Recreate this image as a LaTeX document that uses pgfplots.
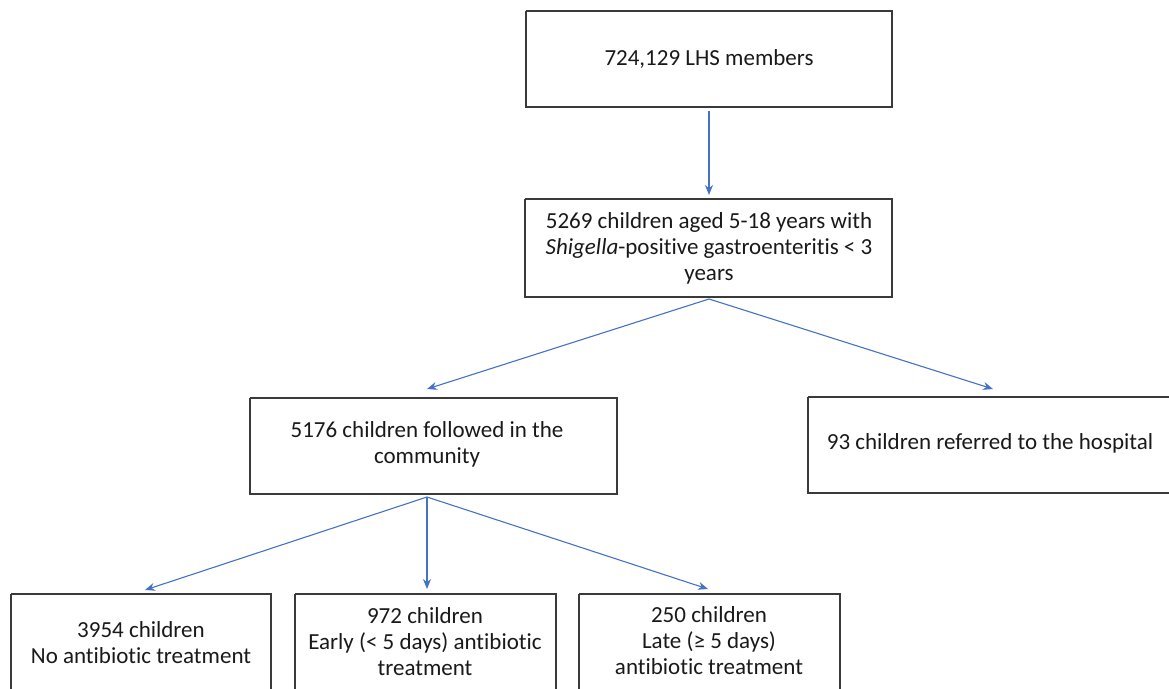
\documentclass[border=0pt]{standalone}
\usepackage{pgfplots}
\pgfplotsset{compat=1.18}
\usepackage{fontspec}
\setmainfont{Carlito}[Ligatures={NoCommon}]
\usetikzlibrary{arrows.meta}
\definecolor{boxline}{HTML}{3A3A3A}
\definecolor{arrowblue}{HTML}{4472C4}
\begin{document}
\begin{tikzpicture}
\begin{axis}[
  hide axis, scale only axis,
  width=1169pt, height=688pt,
  xmin=0, xmax=1169, ymin=0, ymax=688,
  y dir=reverse, clip=false,
  every axis plot/.append style={line join=miter},
]
% boxes
\addplot[boxline, line width=1.3pt] coordinates {(526,11) (892,11) (892,107) (526,107) (526,11)};
\addplot[boxline, line width=1.3pt] coordinates {(525,199) (892,199) (892,297) (525,297) (525,199)};
\addplot[boxline, line width=1.3pt] coordinates {(250,398) (617,398) (617,494) (250,494) (250,398)};
\addplot[boxline, line width=1.3pt] coordinates {(808,397) (1175,397) (1175,493) (808,493) (808,397)};
\addplot[boxline, line width=1.3pt] coordinates {(11,594) (271,594) (271,700) (11,700) (11,594)};
\addplot[boxline, line width=1.3pt] coordinates {(295,594) (556,594) (556,700) (295,700) (295,594)};
\addplot[boxline, line width=1.3pt] coordinates {(579,594) (840,594) (840,700) (579,700) (579,594)};
% arrows
\addplot[arrowblue, line width=1.1pt, -{Stealth[length=10pt,width=8pt]}] coordinates {(709,111) (709,195)};
\addplot[arrowblue, line width=1.1pt, -{Stealth[length=10pt,width=8pt]}] coordinates {(709,299) (427,389)};
\addplot[arrowblue, line width=1.1pt, -{Stealth[length=10pt,width=8pt]}] coordinates {(709,299) (993,389)};
\addplot[arrowblue, line width=1.1pt, -{Stealth[length=10pt,width=8pt]}] coordinates {(427,497) (145,590)};
\addplot[arrowblue, line width=1.1pt, -{Stealth[length=10pt,width=8pt]}] coordinates {(427,497) (427,589)};
\addplot[arrowblue, line width=1.1pt, -{Stealth[length=10pt,width=8pt]}] coordinates {(427,497) (708,589)};
% text
\begin{scope}[every node/.style={align=center, font=\fontsize{23}{26}\selectfont, text=black!90, inner sep=0pt}]
\node at (axis cs:709,59) {724,129 LHS members};
\node at (axis cs:709,248) {5269 children aged 5-18 years with\\\textit{Shigella}-positive gastroenteritis < 3\\years};
\node at (axis cs:427,444) {5176 children followed in the\\community};
\node at (axis cs:990,443) {93 children referred to the hospital};
\node at (axis cs:141,643) {3954 children\\No antibiotic treatment};
\node at (axis cs:425,642) {972 children\\Early (< 5 days) antibiotic\\treatment};
\node at (axis cs:709,641) {250 children\\Late (≥ 5 days)\\antibiotic treatment};
\end{scope}
\coordinate (bl) at (axis cs:0,688);
\coordinate (tr) at (axis cs:1169,0);
\end{axis}
\pgfresetboundingbox
\useasboundingbox (bl) rectangle (tr);
\end{tikzpicture}
\end{document}
